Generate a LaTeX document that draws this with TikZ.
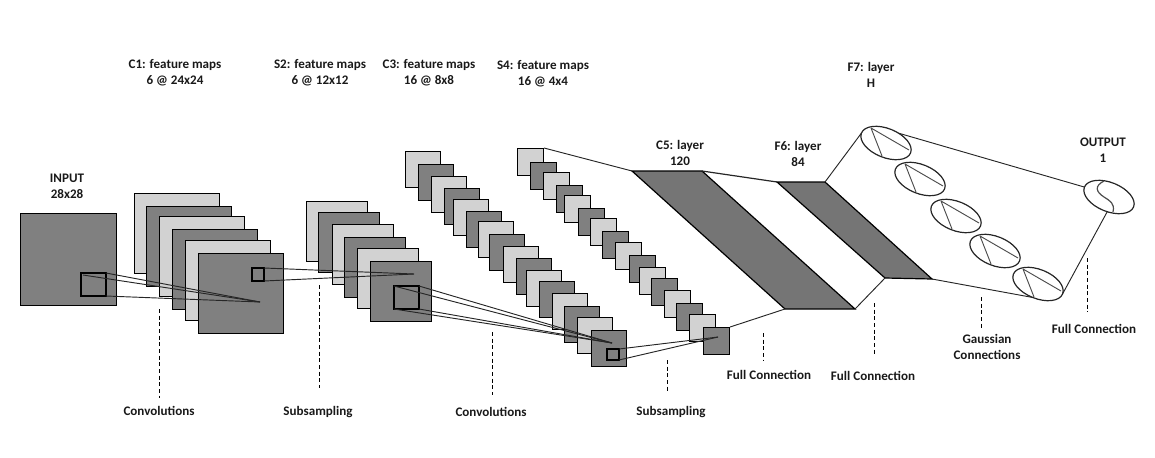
\documentclass[tikz,border=0pt]{standalone}
\usepackage{fontspec}
\setmainfont{Carlito}
\usetikzlibrary{shapes.geometric}
\definecolor{mapdark}{HTML}{808080}
\definecolor{maplight}{HTML}{D2D2D2}
\definecolor{layergray}{HTML}{757575}
\tikzset{
  lbl/.style={font=\bfseries\fontsize{9.8}{12}\selectfont,align=center,text=black!90},
  map/.style={draw,line width=0.8pt,inner sep=0pt,anchor=north west},
  inputmap/.style={map,fill=mapdark,minimum width=72pt,minimum height=69pt},
  cmap/.style={map,minimum width=63.4pt,minimum height=60pt},
  smap/.style={map,minimum width=45.5pt,minimum height=45pt},
  dmap/.style={map,minimum width=26pt,minimum height=27pt},
  emap/.style={map,minimum width=19.5pt,minimum height=20.25pt},
  win/.style={draw,line width=1.6pt,inner sep=0pt,outer sep=0pt,anchor=north west},
  link/.style={line width=0.7pt,black!85},
  cell/.style={draw,ellipse,rotate=-22,line width=0.9pt,inner sep=0pt,outer sep=0pt,minimum width=39.75pt,minimum height=21.75pt,black!85},
  chord/.style={line width=0.7pt,black!70},
  guide/.style={densely dashed,line width=0.6pt},
}
\begin{document}
\begin{tikzpicture}[x=0.75pt,y=-0.75pt]
    \useasboundingbox (0,0) rectangle (1155,457);

    % 输入
    \node[inputmap] (input) at (20,213) {};
    \node[win,minimum width=18.75pt,minimum height=17.25pt] (w1) at (81,273) {};

    % C1
    \foreach \i/\x/\y/\c in {1/134/193/maplight,2/146/206/mapdark,3/159/216/maplight,4/172/229/mapdark,5/185/240/maplight,6/198/253/mapdark}
        \node[cmap,fill=\c] (cm\i) at (\x,\y) {};
    \coordinate (a1) at (260,302);
    \draw[link] (w1.north east) -- (a1);
    \draw[link] (w1.north west) ++(2,2) -- (a1);
    \draw[link] (w1.south east) -- (a1);
    \node[win,minimum width=9pt,minimum height=9.75pt] (w2) at (252,268) {};

    % S2
    \foreach \i/\x/\y/\c in {1/306/201/maplight,2/318/212/mapdark,3/332/224/maplight,4/344/237/mapdark,5/357/248/maplight,6/370/261/mapdark}
        \node[smap,fill=\c] (sm\i) at (\x,\y) {};
    \coordinate (a2) at (414,274);
    \draw[link] (w2.north east) -- (a2);
    \draw[link] (w2.south east) -- (a2);
    \node[win,minimum width=18.75pt,minimum height=17.25pt] (w3) at (394,286) {};

    % C3
    \foreach \i/\x/\y/\c in {1/405/151/maplight,2/418/164/mapdark,3/431/176/maplight,4/444/188/mapdark,5/453/199/maplight,6/466/211/mapdark,7/478/221/maplight,8/489/234/mapdark,9/503/246/maplight,10/516/258/mapdark,11/526/270/maplight,12/539/281/mapdark,13/552/293/maplight,14/564/306/mapdark,15/577/317/maplight,16/591/330/mapdark}
        \node[dmap,fill=\c] (dm\i) at (\x,\y) {};
    \coordinate (a3) at (612,343);
    \draw[link] (w3.north east) -- (a3);
    \draw[link] (w3.north west) -- (a3);
    \draw[link] (w3.south east) -- (a3);
    \draw[link] (w3.south west) -- (a3);
    \node[win,minimum width=9pt,minimum height=8.25pt] (w4) at (607,349) {};

    % S4
    \foreach \i/\x/\y/\c in {1/517/148/maplight,2/530/162/mapdark,3/543/172/maplight,4/556/185/mapdark,5/564/195/maplight,6/578/208/mapdark,7/590/218/maplight,8/602/231/mapdark,9/615/242/maplight,10/629/255/mapdark,11/639/267/maplight,12/651/278/mapdark,13/664/290/maplight,14/676/303/mapdark,15/689/314/maplight,16/703/327/mapdark}
        \node[emap,fill=\c] (em\i) at (\x,\y) {};
    \coordinate (a4) at (718,337);
    \draw[link] (w4.north east) -- (a4);
    \draw[link] (w4.south east) -- (a4);

    % C5, F6
    \coordinate (c5a) at (632,171);
    \coordinate (c5b) at (702,171);
    \coordinate (c5c) at (855,309);
    \coordinate (c5d) at (785,309);
    \coordinate (f6a) at (777,182);
    \coordinate (f6b) at (825,182);
    \coordinate (f6c) at (932,279);
    \coordinate (f6d) at (885,278);
    \draw[fill=layergray,line width=0.9pt] (c5a) -- (c5b) -- (c5c) -- (c5d) -- cycle;
    \draw[fill=layergray,line width=0.9pt] (f6a) -- (f6b) -- (f6c) -- (f6d) -- cycle;
    \draw[link] (em1.north east) -- (c5a);
    \draw[link] (em16.north east) -- (c5d);
    \draw[link,line width=0.9pt] (c5b) -- (f6a);
    \draw[link] (c5c) -- (f6d);

    % F7
    \foreach \i/\x/\y in {1/886/143,2/920/179,3/956/216,4/995/251,5/1038/284}{
        \node[cell] (e\i) at (\x,\y) {};
        \draw[chord] (e\i) ++(-15,-15) -- ++(38,22) ++(-38,-22) -- ++(11,28);
    }

    % 输出
    \node[cell] (out) at (1109,197) {};
    \draw[chord,line width=0.9pt] (1104,181) .. controls (1094,186) and (1096,192) .. (1104,197)
        .. controls (1110,201) and (1115,203) .. (1113,212);
    \draw[link] (f6b) -- (e1.west);
    \draw[link] (f6c) -- (e5.south);
    \draw[link] (e1.60) -- (out.west);
    \draw[link] (e5.east) -- (out.-75);

    % 虚线
    \draw[guide] (159,309) -- (159,398);
    \draw[guide] (319,285) -- (319,388);
    \draw[guide] (492,332) -- (492,395);
    \draw[guide] (667,360) -- (667,392);
    \draw[guide] (763,333) -- (763,360);
    \draw[guide] (874,303) -- (874,356);
    \draw[guide] (981,297) -- (981,330);
    \draw[guide] (1087,258) -- (1087,312);

    % 顶部标注
    \node[lbl] (t1) at (175,73) {C1: feature maps\\6 @ 24x24};
    \node[lbl] (t2) at (320,73) {S2: feature maps\\6 @ 12x12};
    \node[lbl] (t3) at (429,73) {C3: feature maps\\16 @ 8x8};
    \node[lbl] (t4) at (543,74) {S4: feature maps\\16 @ 4x4};
    \node[lbl] (t5) at (871,75) {F7: layer\\H};
    \node[lbl] (t6) at (67,186) {INPUT\\28x28};
    \node[lbl] (t7) at (680,153) {C5: layer\\120};
    \node[lbl] (t8) at (798,154) {F6: layer\\84};
    \node[lbl] (t9) at (1103,150) {OUTPUT\\1};

    % 底部标注
    \node[lbl] (b1) at (159,411) {Convolutions};
    \node[lbl] (b2) at (318,412) {Subsampling};
    \node[lbl] (b3) at (491,412) {Convolutions};
    \node[lbl] (b4) at (671,412) {Subsampling};
    \node[lbl] (b5) at (769,375) {Full Connection};
    \node[lbl] (b6) at (873,376) {Full Connection};
    \node[lbl] (b7) at (987,347) {Gaussian\\Connections};
    \node[lbl] (b8) at (1094,329) {Full Connection};
\end{tikzpicture}
\end{document}
